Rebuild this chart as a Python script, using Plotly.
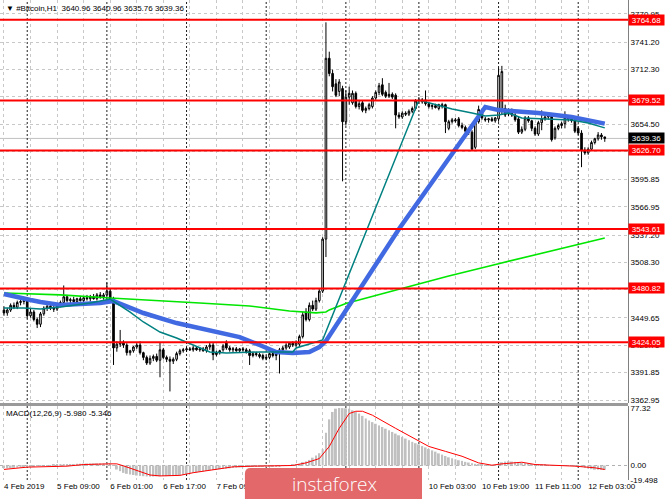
import plotly.graph_objects as go

# #Bitcoin H1, bars from 4 Feb 2019 17:00 to 12 Feb 2019 08:00 (bar index on x)
open_ = [3458, 3455, 3458, 3463, 3461, 3466, 3467, 3468, 3452, 3456, 3448, 3443, 3454, 3460, 3462, 3460,
         3459, 3463, 3466, 3472, 3468, 3469, 3467, 3470, 3468, 3471, 3470, 3472, 3470, 3474, 3472, 3474,
         3478, 3470, 3418, 3422, 3424, 3421, 3413, 3415, 3419, 3421, 3413, 3408, 3402, 3407, 3409, 3405,
         3416, 3408, 3406, 3404, 3406, 3412, 3415, 3416, 3417, 3416, 3418, 3416, 3417, 3415, 3419, 3421,
         3411, 3413, 3416, 3424, 3418, 3416, 3417, 3415, 3417, 3416, 3415, 3410, 3412, 3411, 3410, 3407,
         3408, 3412, 3410, 3412, 3416, 3418, 3419, 3423, 3421, 3422, 3430, 3456, 3448, 3463, 3459, 3468,
         3478, 3533, 3724, 3708, 3697, 3689, 3692, 3657, 3683, 3677, 3687, 3673, 3677, 3669, 3671, 3673,
         3682, 3688, 3696, 3688, 3686, 3686, 3685, 3664, 3662, 3666, 3665, 3668, 3671, 3679, 3678, 3680,
         3676, 3673, 3674, 3671, 3675, 3675, 3650, 3657, 3659, 3660, 3653, 3651, 3647, 3646, 3630, 3657,
         3668, 3660, 3659, 3660, 3658, 3660, 3670, 3671, 3665, 3669, 3664, 3660, 3646, 3649, 3661, 3658,
         3650, 3644, 3656, 3660, 3662, 3663, 3640, 3650, 3653, 3655, 3661, 3660, 3658, 3650, 3645, 3627,
         3624, 3628, 3635, 3639, 3643, 3640.96]
high = [3462, 3460, 3465, 3466, 3468, 3470, 3470, 3471, 3460, 3458, 3450, 3456, 3462, 3465, 3464, 3463,
        3465, 3468, 3484, 3474, 3471, 3472, 3471, 3473, 3472, 3474, 3474, 3475, 3476, 3477, 3476, 3487,
        3481, 3472, 3425, 3437, 3426, 3423, 3416, 3420, 3423, 3425, 3414, 3410, 3410, 3411, 3412, 3424,
        3418, 3410, 3409, 3408, 3414, 3417, 3418, 3419, 3419, 3420, 3420, 3419, 3419, 3421, 3424, 3424,
        3415, 3416, 3422, 3426, 3420, 3419, 3419, 3418, 3419, 3418, 3417, 3414, 3414, 3413, 3412, 3410,
        3413, 3414, 3414, 3418, 3420, 3423, 3424, 3425, 3426, 3432, 3456, 3460, 3466, 3468, 3471, 3480,
        3535, 3762, 3731, 3712, 3702, 3702, 3695, 3690, 3694, 3690, 3689, 3680, 3679, 3673, 3677, 3684,
        3690, 3698, 3703, 3690, 3698, 3688, 3687, 3667, 3668, 3668, 3670, 3673, 3681, 3683, 3682, 3690,
        3678, 3676, 3676, 3676, 3677, 3676, 3659, 3661, 3661, 3662, 3656, 3653, 3650, 3648, 3660, 3674,
        3670, 3662, 3661, 3662, 3662, 3714, 3716, 3675, 3671, 3671, 3666, 3663, 3652, 3663, 3663, 3659,
        3652, 3658, 3669, 3664, 3666, 3665, 3652, 3655, 3657, 3668, 3663, 3662, 3660, 3652, 3648, 3630,
        3630, 3637, 3640, 3646, 3645, 3640.96]
low = [3452, 3452, 3456, 3459, 3459, 3463, 3464, 3449, 3450, 3446, 3439, 3440, 3452, 3457, 3458, 3456,
       3457, 3461, 3464, 3466, 3465, 3466, 3465, 3467, 3466, 3468, 3467, 3469, 3468, 3470, 3469, 3470,
       3468, 3400, 3414, 3419, 3418, 3410, 3410, 3413, 3417, 3411, 3405, 3400, 3400, 3404, 3403, 3387,
       3406, 3403, 3372, 3401, 3404, 3410, 3413, 3414, 3415, 3414, 3415, 3414, 3414, 3413, 3416, 3405,
       3409, 3411, 3414, 3416, 3414, 3413, 3414, 3413, 3414, 3412, 3400, 3408, 3409, 3407, 3405, 3405,
       3406, 3408, 3405, 3391, 3414, 3416, 3417, 3419, 3419, 3419, 3428, 3446, 3446, 3457, 3457, 3466,
       3476, 3514, 3705, 3689, 3683, 3684, 3594, 3653, 3675, 3675, 3671, 3670, 3667, 3666, 3669, 3671,
       3680, 3685, 3684, 3682, 3682, 3681, 3650, 3660, 3660, 3663, 3663, 3666, 3669, 3676, 3676, 3674,
       3671, 3670, 3671, 3669, 3671, 3645, 3648, 3655, 3656, 3651, 3649, 3645, 3643, 3626, 3628, 3655,
       3659, 3657, 3656, 3657, 3656, 3657, 3665, 3662, 3663, 3662, 3657, 3644, 3644, 3647, 3656, 3647,
       3642, 3642, 3648, 3658, 3659, 3636, 3638, 3648, 3650, 3650, 3657, 3656, 3645, 3643, 3609, 3622,
       3622, 3626, 3633, 3637, 3638, 3635.76]
close = [3455, 3458, 3463, 3461, 3466, 3467, 3468, 3452, 3456, 3448, 3443, 3454, 3460, 3462, 3460, 3459,
         3463, 3466, 3472, 3468, 3469, 3467, 3470, 3468, 3471, 3470, 3472, 3470, 3474, 3472, 3474, 3478,
         3470, 3418, 3422, 3424, 3421, 3413, 3415, 3419, 3421, 3413, 3408, 3402, 3407, 3409, 3405, 3416,
         3408, 3406, 3404, 3406, 3412, 3415, 3416, 3417, 3416, 3418, 3416, 3417, 3415, 3419, 3421, 3411,
         3413, 3415, 3420, 3418, 3416, 3417, 3415, 3417, 3416, 3414, 3410, 3412, 3411, 3409, 3407, 3408,
         3412, 3410, 3412, 3416, 3418, 3421, 3423, 3421, 3424, 3430, 3453, 3448, 3463, 3459, 3468, 3478,
         3533, 3724, 3708, 3694, 3685, 3699, 3657, 3683, 3687, 3687, 3673, 3676, 3669, 3671, 3675, 3682,
         3688, 3695, 3686, 3684, 3684, 3683, 3664, 3662, 3666, 3665, 3668, 3671, 3679, 3680, 3680, 3676,
         3673, 3674, 3672, 3675, 3673, 3657, 3657, 3659, 3658, 3653, 3651, 3647, 3646, 3628, 3657, 3670,
         3661, 3659, 3660, 3658, 3661, 3706, 3710, 3664, 3669, 3664, 3659, 3646, 3649, 3661, 3658, 3650,
         3644, 3656, 3660, 3662, 3663, 3638, 3650, 3653, 3655, 3661, 3660, 3658, 3647, 3645, 3627, 3624,
         3628, 3635, 3639, 3643, 3641, 3639.36]
bars = list(range(len(close)))

# moving averages as (bar, value) vertices
ma_green = [(0, 3476.0), (17, 3474.0), (32, 3470.7), (44, 3468.6), (59, 3465.4), (74, 3462.3),
            (86, 3457.0), (94, 3455.0), (97, 3456.0), (98, 3458.2), (103, 3465.0), (119, 3479.9),
            (134, 3493.9), (149, 3507.0), (167, 3522.5), (181, 3534.1)]
ma_teal = [(0, 3460.2), (6, 3460.2), (11, 3459.1), (17, 3461.2), (26, 3465.4), (32, 3469.6),
           (38, 3455.9), (42, 3445.4), (47, 3434.8), (52, 3428.5), (57, 3421.1), (62, 3413.7),
           (67, 3412.6), (77, 3413.7), (87, 3413.7), (88, 3417.9), (93, 3423.2), (96, 3426.4),
           (125, 3679.9), (131, 3674.6), (135, 3670.4), (141, 3666.2), (145, 3663.0), (149, 3664.1),
           (152, 3666.2), (156, 3660.9), (164, 3659.8), (171, 3658.8), (176, 3655.6), (181, 3650.5)]
ma_blue = [(0, 3474.9), (5, 3471.7), (8, 3468.6), (11, 3466.5), (17, 3463.3), (23, 3464.4),
           (29, 3465.4), (33, 3467.5), (42, 3454.9), (52, 3444.3), (62, 3436.9), (71, 3429.5),
           (77, 3421.1), (82, 3413.7), (87, 3412.6), (92, 3413.7), (95, 3418.9), (97, 3425.3),
           (119, 3543.6), (136, 3627.1), (145, 3672.5), (149, 3669.3), (161, 3666.2), (171, 3662.0),
           (176, 3658.8), (181, 3655.0)]

# MACD(12,26,9)
macd_hist = [-3.5, -3.8, -3.6, -3.2, -2.8, -2.4, -2.0,
             -1.5, -1.0, -0.8, -0.5, -0.3, 0.0, 0.2, 0.5, 0.7, 0.9, 1.0, 1.2, 1.5, 1.7,
             2.0, 2.2, 2.4, 2.5, 2.6, 2.7, 2.8, 2.9, 3.0, 3.0, 3.1, 2.8,
             0.5, -5.4, -7.6, -9.9, -11.2, -12.1,
             -12.8, -13.5, -14.0, -14.4, -14.8, -15.0, -14.9,
             -14.6, -14.5, -14.3, -14.4, -14.2, -14.0, -13.6,
             -13.0, -12.3, -11.5, -10.8, -10.0, -9.3,
             -8.5, -7.9, -7.2, -6.5, -6.0, -5.5,
             -5.0, -4.6, -4.2, -3.8, -3.3, -3.0,
             -2.5, -2.3, -2.1, -2.0, -2.0, -1.9, -1.8, -1.8, -1.7, -1.6, -1.5, -1.3,
             -1.0, -0.6, -0.2, 0.2, 0.8, 1.5, 2.2,
             4.5, 5.5, 7.5, 10.5, 13.5, 16.5, 22.0, 44.0, 62.0,
             72.0, 76.4, 77.32, 77.1, 76.9, 76.4, 74.2, 72.0, 69.8, 66.7, 63.2, 60.5, 58.3, 56.1,
             53.9, 51.7, 49.5, 47.3, 45.1, 42.9, 40.6, 38.4, 36.2, 34.0, 31.8, 30.0, 28.3, 26.1,
             24.3, 22.1, 20.3, 18.6, 16.3, 14.6, 12.8, 11.0, 9.7, 8.4, 7.1, 6.2, 4.9, 4.0, 3.1,
             2.2, 1.3, 0.9, 0.4, 0.4, 0.1, 0.4, 2.7, 4.4, 5.3, 5.7, 5.3, 4.9, 4.0, 3.5, 3.1, 2.7,
             2.2, 1.8, 1.3, 1.3, 0.9, 0.4, 0.4, 0.4, 0.4, 0.1, 0.1, -0.1, -0.1, -0.4, -0.9, -1.8,
             -3.1, -4.0, -4.9, -5.7, -5.7, -5.9, -5.98]
macd_signal = [(0, -5.3), (7, -2.2), (19, -0.9), (24, 1.3), (32, 2.2), (34, 2.2), (36, -0.5),
               (39, -5.3), (42, -10.5), (44, -12.8), (47, -14.0), (50, -14.1), (53, -13.3),
               (57, -9.7), (63, -5.3), (69, -1.8), (75, -0.9), (87, 0.0), (91, 3.5), (95, 9.3),
               (98, 25.6), (101, 49.9), (104, 69.8), (106, 72.9), (108, 72.9), (111, 67.6),
               (118, 49.9), (125, 32.3), (128, 25.6), (133, 19.0), (138, 12.4), (143, 3.5),
               (147, 0.4), (150, 2.2), (156, 4.4), (160, 1.3), (168, 0.0), (172, -0.9),
               (178, -3.1), (181, -5.346)]

assert len(open_) == len(high) == len(low) == len(close) == len(macd_hist) == 182

levels = [3764.68, 3679.52, 3626.70, 3543.61, 3480.82, 3424.05]
last_price = 3639.36

price_ticks = [3362.95, 3391.85, 3420.75, 3449.65, 3479.40, 3508.30, 3537.20, 3566.95,
               3595.85, 3625.60, 3654.50, 3683.40, 3712.30, 3741.20, 3770.95]
macd_ticks = [77.32, 0.0, -19.498]
macd_tick_text = ["77.32", "0.00", "-19.498"]
time_tick_bars = [0, 16, 32, 48, 64, 80, 96, 112, 128, 144, 160, 176]
time_tick_text = ["4 Feb 2019", "5 Feb 09:00", "6 Feb 01:00", "6 Feb 17:00", "7 Feb 09:00",
                  "8 Feb 01:00", "8 Feb 17:00", "9 Feb 09:00", "10 Feb 03:00", "10 Feb 19:00",
                  "11 Feb 11:00", "12 Feb 03:00"]
grid_mid_bars = [8, 24, 40, 56, 72, 88, 104, 120, 136, 152, 168]
day_start_bars = [7, 31, 55, 79, 103, 125, 149, 173]

FONT = "Liberation Sans, Arial, sans-serif"
GRID = "#C8C8C8"
MAIN_DOM = [0.1604, 1.0]
MACD_DOM = [0.0, 0.1542]

fig = go.Figure()

fig.add_trace(go.Candlestick(
    x=bars, open=open_, high=high, low=low, close=close,
    increasing=dict(line=dict(color="black", width=1), fillcolor="white"),
    decreasing=dict(line=dict(color="black", width=1), fillcolor="black"),
    whiskerwidth=0, hoverinfo="skip", xaxis="x", yaxis="y"))


def ma_line(pts, color, width):
    return go.Scatter(x=[p[0] for p in pts], y=[p[1] for p in pts], mode="lines",
                      line=dict(color=color, width=width), hoverinfo="skip",
                      xaxis="x", yaxis="y")


fig.add_trace(ma_line(ma_green, "rgb(0,230,0)", 1.6))
fig.add_trace(ma_line(ma_blue, "rgb(65,105,225)", 4.5))
fig.add_trace(ma_line(ma_teal, "rgb(0,128,128)", 1.5))

fig.add_trace(go.Bar(x=bars, y=macd_hist, width=0.6, marker=dict(color="#C0C0C0", line=dict(width=0)),
                     hoverinfo="skip", xaxis="x", yaxis="y2"))
fig.add_trace(go.Scatter(x=[p[0] for p in macd_signal], y=[p[1] for p in macd_signal], mode="lines",
                         line=dict(color="red", width=1), hoverinfo="skip", xaxis="x", yaxis="y2"))

shapes = []
# bid line
shapes.append(dict(type="line", xref="paper", x0=0, x1=1, yref="y", y0=last_price, y1=last_price,
                   line=dict(color="#C0C0C0", width=1), layer="below"))
# period separators
for b in day_start_bars:
    shapes.append(dict(type="line", xref="x", x0=b, x1=b, yref="paper", y0=0, y1=1,
                       line=dict(color="#202020", width=1, dash="2px,2px"), layer="below"))
# MACD zero level
shapes.append(dict(type="line", xref="paper", x0=0, x1=1, yref="y2", y0=0, y1=0,
                   line=dict(color="#B0B0B0", width=1, dash="3px,3px"), layer="below"))
# support / resistance levels
for lv in levels:
    shapes.append(dict(type="line", xref="paper", x0=0, x1=1, yref="y", y0=lv, y1=lv,
                       line=dict(color="#FF0000", width=2), layer="above"))
# pane separator
shapes.append(dict(type="rect", xref="paper", x0=0, x1=1, yref="paper", y0=MACD_DOM[1], y1=MAIN_DOM[0],
                   fillcolor="#9A9A9A", line=dict(width=0), layer="above"))
# watermark box
shapes.append(dict(type="path", xref="paper", yref="paper",
                   path="M 0.390,-0.045 L 0.390,0.013 Q 0.390,0.025 0.399,0.025 L 0.672,0.025 L 0.672,-0.045 Z",
                   fillcolor="#E2686A", line=dict(width=0), layer="above"))

annotations = []
for lv in levels:
    annotations.append(dict(xref="paper", x=1, xanchor="left", yref="y", y=lv, yanchor="middle",
                            text="%.2f" % lv, showarrow=False, bgcolor="#FF0000", width=35, height=10,
                            borderpad=0, font=dict(family=FONT, size=8, color="white")))
annotations.append(dict(xref="paper", x=1, xanchor="left", yref="y", y=last_price, yanchor="middle",
                        text="%.2f" % last_price, showarrow=False, bgcolor="black", width=35, height=10,
                        borderpad=0, font=dict(family=FONT, size=8, color="white")))
annotations.append(dict(xref="paper", x=0, xanchor="left", xshift=4, yref="paper", y=1, yanchor="top",
                        yshift=-2, showarrow=False,
                        text="\u25bc #Bitcoin,H1\u00a0\u00a03640.96 3640.96 3635.76 3639.36",
                        font=dict(family=FONT, size=8, color="black")))
annotations.append(dict(xref="paper", x=0, xanchor="left", xshift=4, yref="paper", y=MACD_DOM[1],
                        yanchor="top", yshift=-1, showarrow=False, text="MACD(12,26,9) -5.980 -5.346",
                        font=dict(family=FONT, size=8, color="black")))
annotations.append(dict(xref="paper", x=0.462, xanchor="left", yref="paper", y=-0.008, yanchor="middle",
                        showarrow=False, text="instaforex",
                        font=dict(family="Open Sans, sans-serif", size=19, color="white", weight=300)))

fig.update_layout(
    width=665, height=499,
    margin=dict(l=0, r=37, t=0, b=19, autoexpand=False),
    paper_bgcolor="white", plot_bgcolor="white",
    showlegend=False, hovermode=False,
    font=dict(family=FONT, size=8, color="black"),
    shapes=shapes, annotations=annotations,
    xaxis=dict(domain=[0, 1], range=[-1.2, 188.0], anchor="y2", automargin=False,
               tickmode="array", tickvals=time_tick_bars, ticktext=time_tick_text,
               ticklabelposition="outside right", ticks="", tickangle=0,
               showgrid=True, gridcolor=GRID, griddash="3px,3px", gridwidth=1,
               minor=dict(tickvals=grid_mid_bars, showgrid=True, gridcolor=GRID, griddash="3px,3px"),
               zeroline=False, rangeslider=dict(visible=False),
               tickfont=dict(family=FONT, size=8, color="black")),
    yaxis=dict(domain=MAIN_DOM, range=[3359.8, 3785.6], side="right", anchor="x", automargin=False,
               tickmode="array", tickvals=price_ticks, ticktext=["%.2f" % v for v in price_ticks],
               showgrid=True, gridcolor=GRID, griddash="3px,3px", zeroline=False,
               showline=True, linecolor="#808080", linewidth=1, ticks="",
               tickfont=dict(family=FONT, size=8, color="black")),
    yaxis2=dict(domain=MACD_DOM, range=[-19.5, 80], side="right", anchor="x", automargin=False,
                tickmode="array", tickvals=macd_ticks, ticktext=macd_tick_text,
                showgrid=False, zeroline=False, showline=True, linecolor="#808080", linewidth=1,
                ticks="", tickfont=dict(family=FONT, size=8, color="black")),
)

# the page body has a default 8px margin; drop it so the figure sits at the window corner
fig.write_html("out.html", config={"displayModeBar": False},
               post_script="document.body.style.margin='0px';")
